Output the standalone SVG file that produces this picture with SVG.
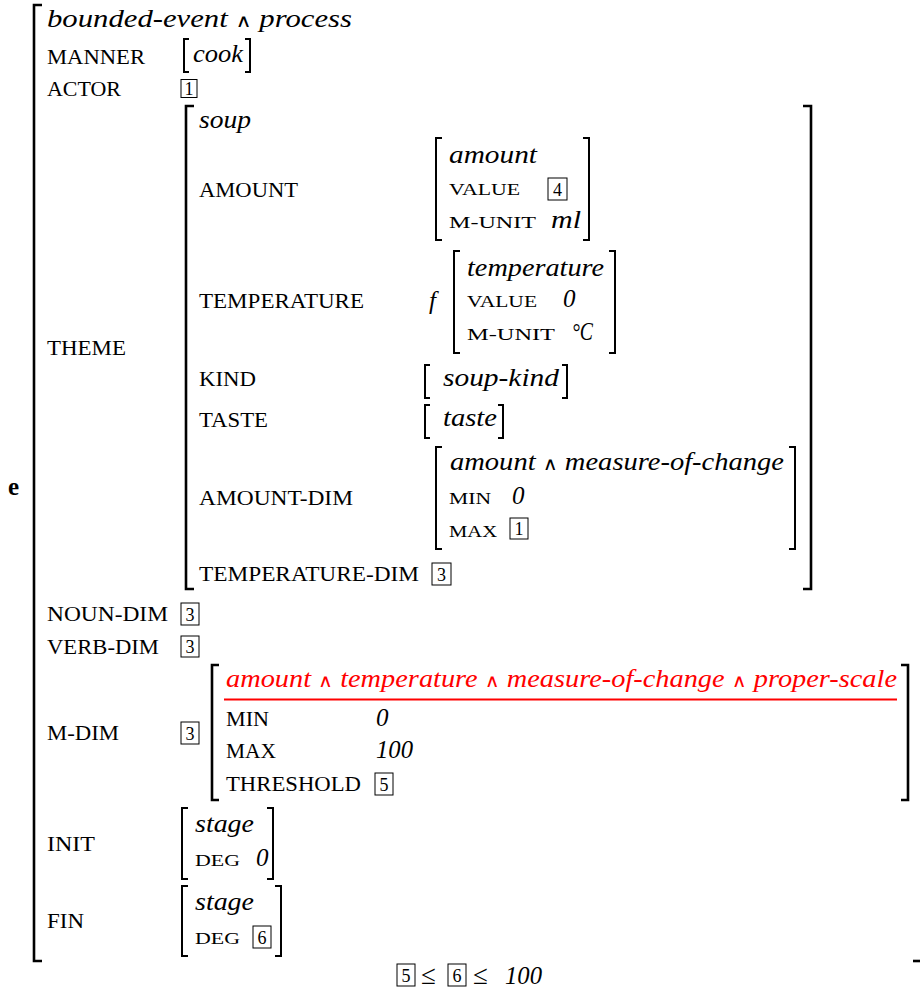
<svg xmlns="http://www.w3.org/2000/svg" width="920" height="992" viewBox="0 0 920 992">
<style>
.it{font-style:italic;font-size:25px}
.sc{font-size:20.5px}
.sm{font-size:16.5px}
.num{font-size:18px;text-anchor:middle}
.and{font-style:normal;font-size:18px}
.br{fill:none;stroke:#000;stroke-width:2.6}
.bs{fill:none;stroke:#000;stroke-width:2}
.bx{fill:none;stroke:#000;stroke-width:1}
.red{fill:#ff0000}
</style>
<rect width="920" height="992" fill="#fff"/>
<g font-family="Liberation Serif, Times New Roman, serif" fill="#000">

<g id="root">
  <text x="8" y="495" font-size="25" font-weight="bold">e</text>
  <path class="br" d="M42 5H34V961H42"/>
  <path class="br" d="M913 961H920"/>
  <text class="it" x="47" y="27" textLength="305" lengthAdjust="spacingAndGlyphs">bounded-event <tspan class="and" font-family="DejaVu Sans">∧</tspan> process</text>
</g>

<g id="manner">
  <text class="sc" x="47" y="64" textLength="98" lengthAdjust="spacingAndGlyphs">MANNER</text>
  <path class="bs" d="M189 39H184V72H189"/>
  <text class="it" x="193" y="62" textLength="50" lengthAdjust="spacingAndGlyphs">cook</text>
  <path class="bs" d="M245 39H250V72H245"/>
</g>

<g id="actor">
  <text class="sc" x="47" y="96" textLength="74" lengthAdjust="spacingAndGlyphs">ACTOR</text>
  <rect class="bx" x="181" y="79.5" width="16" height="18"/>
  <text class="num" x="189" y="95" font-size="16">1</text>
</g>

<g id="theme">
  <text class="sc" x="47" y="355" textLength="79" lengthAdjust="spacingAndGlyphs">THEME</text>
  <path class="br" d="M194 106H186V589H194"/>
  <path class="br" d="M803 106H811V589H803"/>
  <text class="it" x="199" y="128" textLength="52" lengthAdjust="spacingAndGlyphs">soup</text>

  <g id="amount">
    <text class="sc" x="199" y="197" textLength="99" lengthAdjust="spacingAndGlyphs">AMOUNT</text>
    <path class="bs" d="M442 138H436V240H442"/>
    <path class="bs" d="M583 138H589V240H583"/>
    <text class="it" x="449" y="163" textLength="88" lengthAdjust="spacingAndGlyphs">amount</text>
    <text class="sm" x="449" y="195" textLength="71" lengthAdjust="spacingAndGlyphs">VALUE</text>
    <rect class="bx" x="548" y="178" width="19" height="22"/>
    <text class="num" x="557.5" y="196">4</text>
    <text class="sm" x="449" y="228" textLength="87" lengthAdjust="spacingAndGlyphs">M-UNIT</text>
    <text class="it" x="551" y="228" textLength="30" lengthAdjust="spacingAndGlyphs">ml</text>
  </g>

  <g id="temperature">
    <text class="sc" x="199" y="308" textLength="165" lengthAdjust="spacingAndGlyphs">TEMPERATURE</text>
    <text class="it" x="429" y="309" font-size="28">f</text>
    <path class="bs" d="M460 251H454V353H460"/>
    <path class="bs" d="M609 251H615V353H609"/>
    <text class="it" x="467" y="276" textLength="137" lengthAdjust="spacingAndGlyphs">temperature</text>
    <text class="sm" x="467" y="307" textLength="70" lengthAdjust="spacingAndGlyphs">VALUE</text>
    <text class="it" x="563" y="307" font-size="23">0</text>
    <text class="sm" x="467" y="340" textLength="88" lengthAdjust="spacingAndGlyphs">M-UNIT</text>
    <text class="it" x="572" y="340" textLength="21" lengthAdjust="spacingAndGlyphs">°C</text>
  </g>

  <g id="kind">
    <text class="sc" x="199" y="386" textLength="57" lengthAdjust="spacingAndGlyphs">KIND</text>
    <path class="bs" d="M430 365H425V398H430"/>
    <text class="it" x="443" y="386" textLength="116" lengthAdjust="spacingAndGlyphs">soup-kind</text>
    <path class="bs" d="M562 365H567V398H562"/>
  </g>

  <g id="taste">
    <text class="sc" x="199" y="427" textLength="69" lengthAdjust="spacingAndGlyphs">TASTE</text>
    <path class="bs" d="M430 405H425V438H430"/>
    <text class="it" x="443" y="426" textLength="54" lengthAdjust="spacingAndGlyphs">taste</text>
    <path class="bs" d="M498 405H503V438H498"/>
  </g>

  <g id="amount-dim">
    <text class="sc" x="199" y="505" textLength="154" lengthAdjust="spacingAndGlyphs">AMOUNT-DIM</text>
    <path class="bs" d="M442 447H436V549H442"/>
    <path class="bs" d="M789 447H795V549H789"/>
    <text class="it" x="450" y="470" textLength="334" lengthAdjust="spacingAndGlyphs">amount <tspan class="and" font-family="DejaVu Sans">∧</tspan> measure-of-change</text>
    <text class="sm" x="449" y="504" textLength="42" lengthAdjust="spacingAndGlyphs">MIN</text>
    <text class="it" x="512" y="504" font-size="23">0</text>
    <text class="sm" x="449" y="537" textLength="48" lengthAdjust="spacingAndGlyphs">MAX</text>
    <rect class="bx" x="510" y="518" width="18" height="21"/>
    <text class="num" x="519" y="535">1</text>
  </g>

  <g id="temperature-dim">
    <text class="sc" x="199" y="581" textLength="220" lengthAdjust="spacingAndGlyphs">TEMPERATURE-DIM</text>
    <rect class="bx" x="432" y="563" width="19" height="22"/>
    <text class="num" x="441.5" y="581">3</text>
  </g>
</g>

<g id="noun-dim">
  <text class="sc" x="47" y="621" textLength="121" lengthAdjust="spacingAndGlyphs">NOUN-DIM</text>
  <rect class="bx" x="181" y="603" width="18" height="22"/>
  <text class="num" x="190" y="621">3</text>
</g>

<g id="verb-dim">
  <text class="sc" x="47" y="654" textLength="112" lengthAdjust="spacingAndGlyphs">VERB-DIM</text>
  <rect class="bx" x="181" y="636" width="18" height="21"/>
  <text class="num" x="190" y="653">3</text>
</g>

<g id="m-dim">
  <text class="sc" x="47" y="740" textLength="72" lengthAdjust="spacingAndGlyphs">M-DIM</text>
  <rect class="bx" x="181" y="722" width="18" height="22"/>
  <text class="num" x="190" y="740">3</text>
  <path class="br" d="M219 665H212V800H219"/>
  <path class="br" d="M901 665H908V800H901"/>
  <text class="it red" x="226" y="687" textLength="671" lengthAdjust="spacingAndGlyphs">amount <tspan class="and" font-family="DejaVu Sans">∧</tspan> temperature <tspan class="and" font-family="DejaVu Sans">∧</tspan> measure-of-change <tspan class="and" font-family="DejaVu Sans">∧</tspan> proper-scale</text>
  <line x1="224" y1="699.5" x2="897" y2="699.5" stroke="#ff0000" stroke-width="2"/>
  <text class="sc" x="226" y="726" textLength="43" lengthAdjust="spacingAndGlyphs">MIN</text>
  <text class="it" x="376" y="726" font-size="23">0</text>
  <text class="sc" x="226" y="758" textLength="50" lengthAdjust="spacingAndGlyphs">MAX</text>
  <text class="it" x="376" y="758" textLength="37" lengthAdjust="spacingAndGlyphs" font-size="23">100</text>
  <text class="sc" x="226" y="791" textLength="135" lengthAdjust="spacingAndGlyphs">THRESHOLD</text>
  <rect class="bx" x="375" y="773" width="18" height="22"/>
  <text class="num" x="384" y="791">5</text>
</g>

<g id="init">
  <text class="sc" x="47" y="851" textLength="48" lengthAdjust="spacingAndGlyphs">INIT</text>
  <path class="bs" d="M188 808H182V879H188"/>
  <path class="bs" d="M267 808H273V879H267"/>
  <text class="it" x="195" y="832" textLength="59" lengthAdjust="spacingAndGlyphs">stage</text>
  <text class="sm" x="195" y="866" textLength="45" lengthAdjust="spacingAndGlyphs">DEG</text>
  <text class="it" x="256" y="866" font-size="23">0</text>
</g>

<g id="fin">
  <text class="sc" x="47" y="928" textLength="37" lengthAdjust="spacingAndGlyphs">FIN</text>
  <path class="bs" d="M188 886H182V956H188"/>
  <path class="bs" d="M275 886H281V956H275"/>
  <text class="it" x="195" y="910" textLength="59" lengthAdjust="spacingAndGlyphs">stage</text>
  <text class="sm" x="195" y="944" textLength="45" lengthAdjust="spacingAndGlyphs">DEG</text>
  <rect class="bx" x="253" y="926" width="18" height="22"/>
  <text class="num" x="262" y="944">6</text>
</g>

<g id="constraint">
  <rect class="bx" x="397" y="964" width="18" height="22"/>
  <text class="num" x="406" y="982">5</text>
  <text x="421" y="984" font-size="27">≤</text>
  <rect class="bx" x="448" y="964" width="18" height="22"/>
  <text class="num" x="457" y="982">6</text>
  <text x="473" y="984" font-size="27">≤</text>
  <text class="it" x="505" y="984" textLength="37" lengthAdjust="spacingAndGlyphs" font-size="23">100</text>
</g>
</g>
</svg>
